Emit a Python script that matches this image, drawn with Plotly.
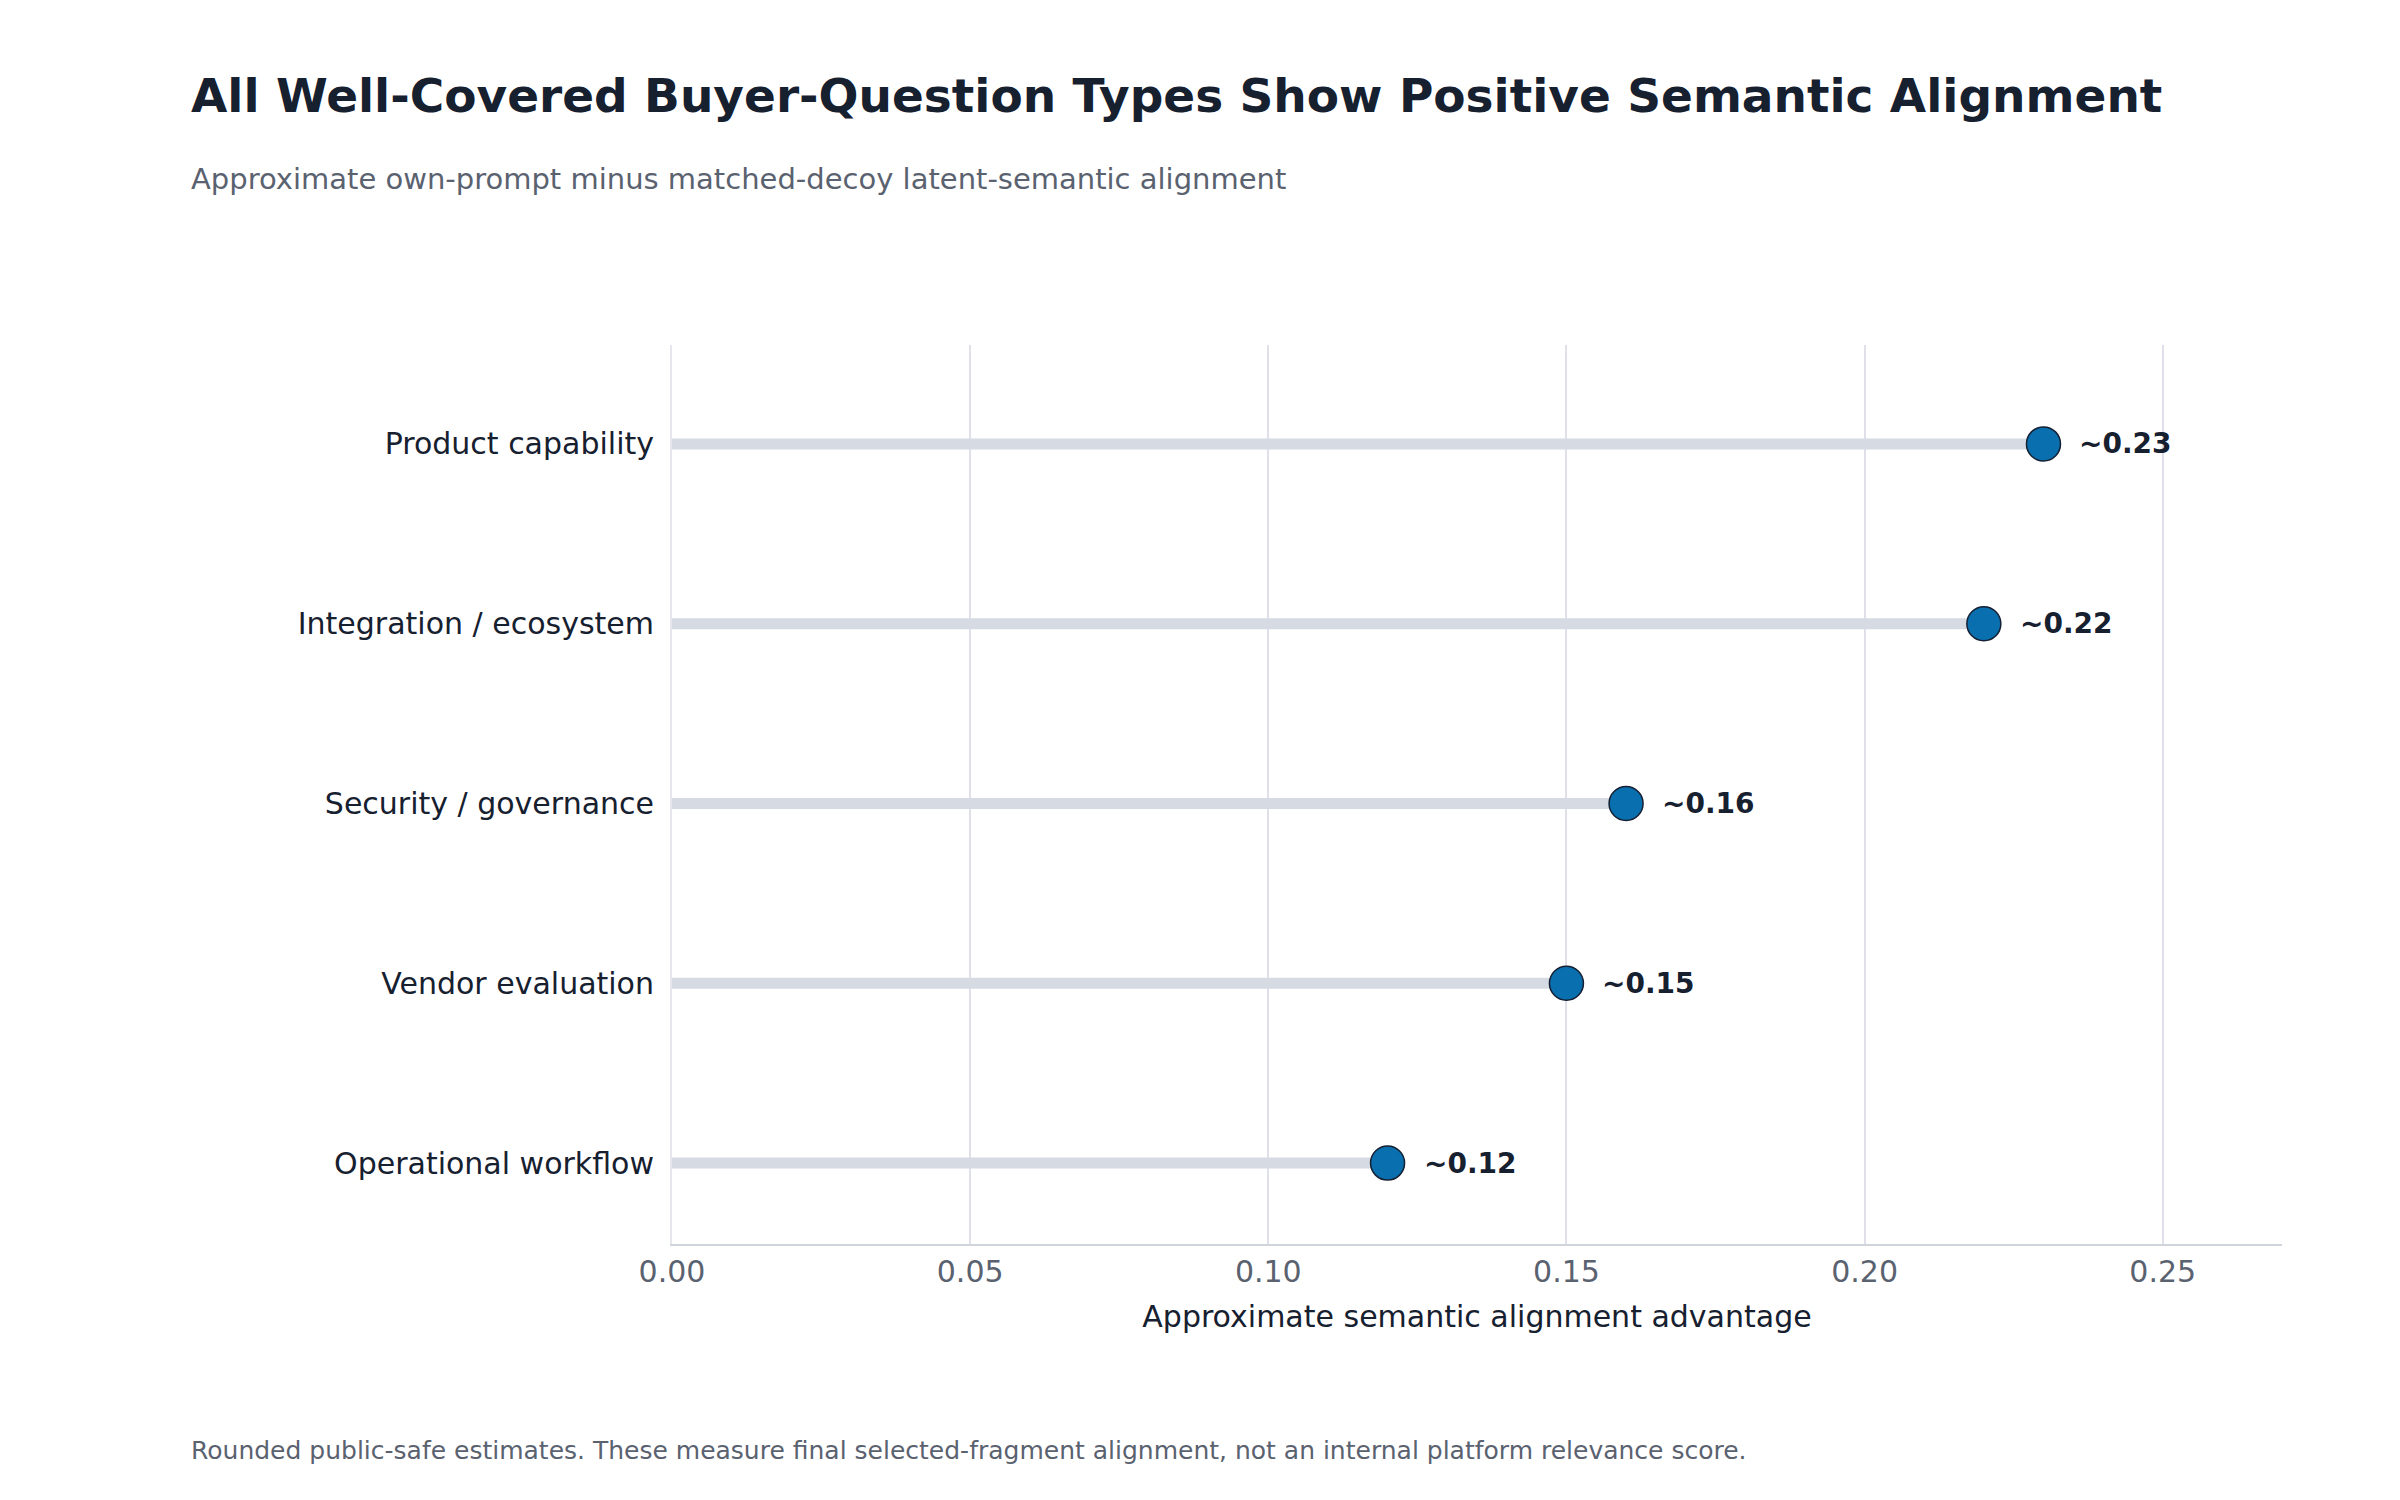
import plotly.graph_objects as go

categories = ["Operational workflow", "Vendor evaluation", "Security / governance",
              "Integration / ecosystem", "Product capability"]
values = [0.12, 0.15, 0.16, 0.22, 0.23]
labels = ["~0.12", "~0.15", "~0.16", "~0.22", "~0.23"]

FONT = "DejaVu Sans"

stem_x, stem_y = [], []
for c, v in zip(categories, values):
    stem_x += [0, v, None]
    stem_y += [c, c, None]

fig = go.Figure()
fig.add_trace(go.Scatter(
    x=stem_x, y=stem_y, mode="lines",
    line=dict(color="#d5dae3", width=11), hoverinfo="skip", showlegend=False
))
fig.add_trace(go.Scatter(
    x=values, y=categories, mode="markers",
    marker=dict(size=34, color="#0a6fae", line=dict(color="#152033", width=1.5)),
    showlegend=False
))

for c, v, t in zip(categories, values, labels):
    fig.add_annotation(x=v, y=c, text=f"<b>{t}</b>", showarrow=False,
                       xanchor="left", xshift=34,
                       font=dict(family=FONT, size=28, color="#16202f"))

fig.add_annotation(text="<b>All Well-Covered Buyer-Question Types Show Positive Semantic Alignment</b>",
                   xref="paper", yref="paper", x=-0.300, y=1.277, xanchor="left", yanchor="middle",
                   showarrow=False, font=dict(family=FONT, size=47, color="#16202f"))
fig.add_annotation(text="Approximate own-prompt minus matched-decoy latent-semantic alignment",
                   xref="paper", yref="paper", x=-0.300, y=1.185, xanchor="left", yanchor="middle",
                   showarrow=False, font=dict(family=FONT, size=29, color="#5a6270"))
fig.add_annotation(text="Rounded public-safe estimates. These measure final selected-fragment alignment, not an internal platform relevance score.",
                   xref="paper", yref="paper", x=-0.300, y=-0.230, xanchor="left", yanchor="middle",
                   showarrow=False, font=dict(family=FONT, size=25, color="#5a6270"))

fig.update_layout(
    width=2400, height=1500,
    paper_bgcolor="white", plot_bgcolor="white",
    margin=dict(l=664, r=126, t=337, b=264),
    font=dict(family=FONT),
    xaxis=dict(range=[0, 0.27], tickvals=[0, 0.05, 0.10, 0.15, 0.20, 0.25],
               ticktext=["0.00", "0.05", "0.10", "0.15", "0.20", "0.25"],
               showgrid=True, gridcolor="#dfe0ea", gridwidth=2, zeroline=False,
               showline=True, linecolor="#cfd3da", linewidth=2,
               tickfont=dict(size=30, color="#5a6270"),
               title=dict(text="Approximate semantic alignment advantage",
                          font=dict(size=30, color="#16202f"), standoff=18)),
    yaxis=dict(categoryorder="array", categoryarray=categories, range=[-0.45, 4.55],
               showgrid=False, zeroline=False, showline=True, linecolor="#e6e7ee", linewidth=2,
               ticks="", tickfont=dict(size=30, color="#16202f"), ticklabelstandoff=10),
)

fig.write_html("out.html")
